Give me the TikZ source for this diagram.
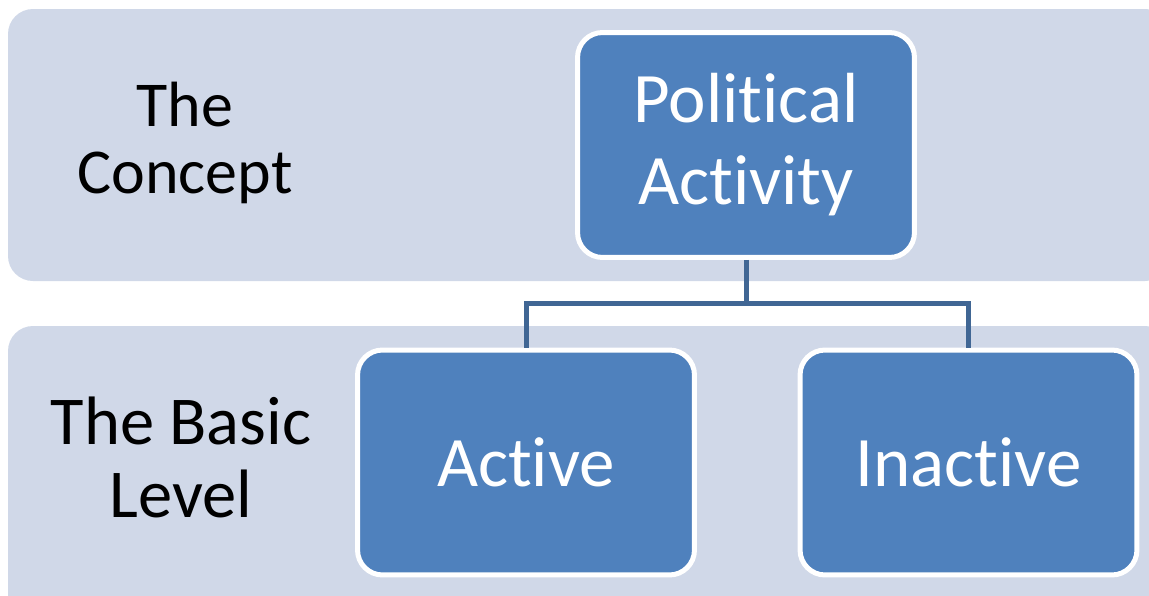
\documentclass[tikz,border=0pt]{standalone}
\usepackage{fontspec}
\setmainfont{Carlito}[Ligatures={NoCommon,NoContextual}]
\usetikzlibrary{calc}
\definecolor{bandgray}{RGB}{208,216,232}
\definecolor{boxblue}{RGB}{79,129,189}
\definecolor{linkblue}{RGB}{64,102,148}
\tikzstyle{band}=[fill=bandgray, rounded corners=0.5cm]
\tikzstyle{bx}=[shape=rectangle, rounded corners=0.5cm, fill=boxblue, draw=white, line width=2.85pt, text=white, align=center, minimum width=6.74cm, minimum height=4.5cm, inner sep=0, font=\fontsize{40.4}{46.7}\selectfont]
\tikzstyle{lbl}=[align=center, inner sep=0]
\tikzstyle{link}=[draw=linkblue, line width=2.85pt]

\begin{document}
\begin{tikzpicture}[x=0.02cm, y=-0.02cm]
\useasboundingbox (0,0) rectangle (1149,595);
\clip (0,0) rectangle (1149,595);
\fill[band] (8,9) rectangle (1170,281);
\fill[band] (8,326) rectangle (1170,620);
\node at (185,143)[lbl, font=\fontsize{36.4}{38}\selectfont](cpt){The\\Concept};
\node at (181,457)[lbl, font=\fontsize{39}{41.5}\selectfont](basic){The Basic\\Level};
\node at (746,145)[bx](pol){Political\\Activity};
\node at (526,462.5)[bx](act){Active};
\node at (968.5,462.5)[bx](inact){Inactive};
\coordinate (mid) at (pol.south |- 0,303);
\draw[link] (pol.south)--(mid) -| (act.north);
\draw[link] (mid) -| (inact.north);
\end{tikzpicture}
\end{document}
